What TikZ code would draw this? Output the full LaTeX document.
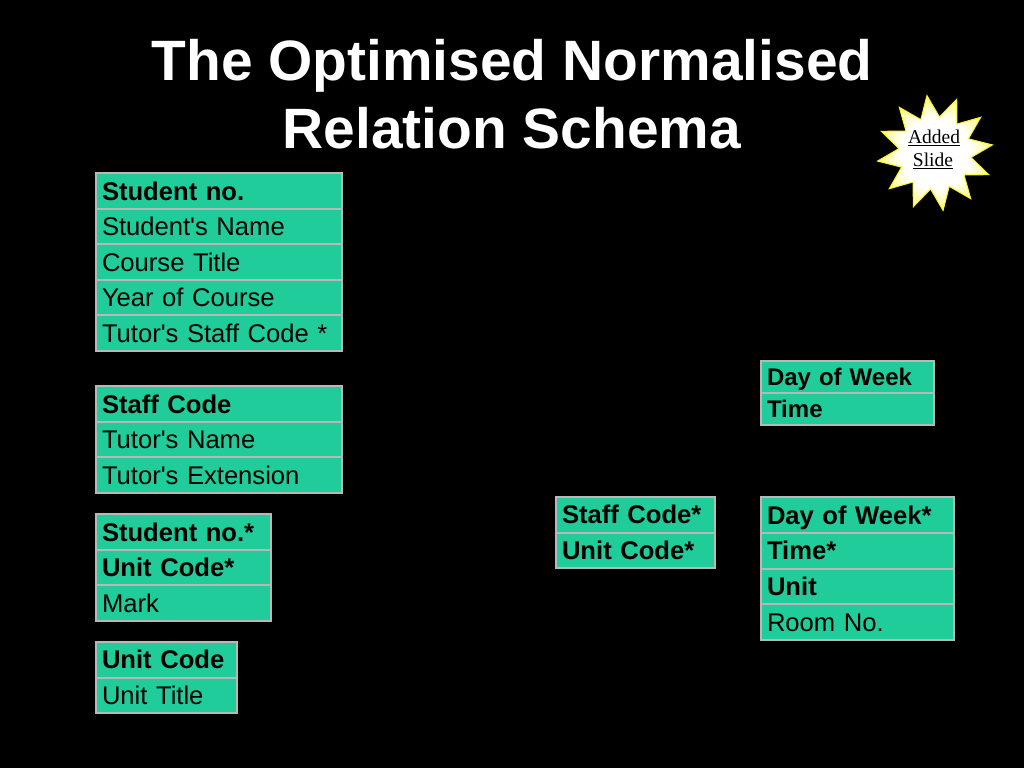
\documentclass[tikz,border=0pt]{standalone}
\usepackage{fontspec}
\setmainfont{Liberation Sans}[Ligatures=TeXOff]
\newfontfamily\burstfont{Liberation Serif}
\usetikzlibrary{shapes.geometric}
\definecolor{cellgreen}{RGB}{32,204,153}
\definecolor{cellborder}{RGB}{184,184,184}
\definecolor{burstyellow}{RGB}{250,245,40}
\pgfdeclareradialshading{burstshade}{\pgfpoint{0bp}{0bp}}{color(0bp)=(white); color(15bp)=(white); color(22bp)=(burstyellow!40!white); color(30bp)=(burstyellow); color(50bp)=(burstyellow)}
\tikzset{
  cell/.style={draw=cellborder, fill=cellgreen, line width=2pt, anchor=north west,
    inner xsep=6pt, inner ysep=0pt, align=left, text=black,
    font=\fontsize{25.6}{30}\selectfont, text height=18.4pt, text depth=0pt},
  keycell/.style={cell, font=\fontsize{25.6}{30}\selectfont\bfseries},
  titletext/.style={text=white, font=\fontsize{56.9}{68}\selectfont\bfseries, align=center},
  burst/.style={star, star points=12, star point ratio=1.6, minimum size=116pt,
    draw=burstyellow, line width=1pt, shading=burstshade},
  bursttext/.style={text=black, font=\fontsize{19.5}{22}\burstfont, inner sep=0pt}
}
\begin{document}
\begin{tikzpicture}[x=1pt,y=-1pt]
\useasboundingbox[fill=black] (0,0) rectangle (1024,768);
% title
\node[titletext] (title) at (512,94) {The Optimised Normalised\\Relation Schema};
% starburst
\node[burst, rotate=8] (burst) at (935,153) {};
\node[bursttext] (added) at (934,138) {\underline{Added}};
\node[bursttext] (slide) at (933,161) {\underline{Slide}};
% Table 1: Student
\node[keycell, minimum width=246pt, minimum height=35.6pt, text width=234pt] (s1) at (95,172) {Student no.};
\node[cell, minimum width=246pt, minimum height=35.6pt, text width=234pt] (s2) at (95,207.6) {Student's Name};
\node[cell, minimum width=246pt, minimum height=35.6pt, text width=234pt] (s3) at (95,243.2) {Course Title};
\node[cell, minimum width=246pt, minimum height=35.6pt, text width=234pt] (s4) at (95,278.8) {Year of Course};
\node[cell, minimum width=246pt, minimum height=35.6pt, text width=234pt] (s5) at (95,314.4) {Tutor's Staff Code *};
% Table 2: Staff
\node[keycell, minimum width=246pt, minimum height=35.6pt, text width=234pt] (t1) at (95,385) {Staff Code};
\node[cell, minimum width=246pt, minimum height=35.6pt, text width=234pt] (t2) at (95,420.6) {Tutor's Name};
\node[cell, minimum width=246pt, minimum height=35.6pt, text width=234pt] (t3) at (95,456.2) {Tutor's Extension};
% Table 3: Marks
\node[keycell, minimum width=175pt, minimum height=35.6pt, text width=163pt] (m1) at (95,513) {Student no.*};
\node[keycell, minimum width=175pt, minimum height=35.6pt, text width=163pt] (m2) at (95,548.6) {Unit Code*};
\node[cell, minimum width=175pt, minimum height=35.6pt, text width=163pt] (m3) at (95,584.2) {Mark};
% Table 4: Unit
\node[keycell, minimum width=141pt, minimum height=35.5pt, text width=129pt] (u1) at (95,641) {Unit Code};
\node[cell, minimum width=141pt, minimum height=35.5pt, text width=129pt] (u2) at (95,676.5) {Unit Title};
% Table 5: Staff/Unit
\node[keycell, minimum width=159pt, minimum height=35.5pt, text width=147pt] (su1) at (555,496) {Staff Code*};
\node[keycell, minimum width=159pt, minimum height=35.5pt, text width=147pt] (su2) at (555,531.5) {Unit Code*};
% Table 6: Day/Time
\node[keycell, minimum width=173pt, minimum height=32.3pt, text width=161pt, font=\fontsize{24}{28}\selectfont\bfseries, text height=17.3pt] (d1) at (760,359.5) {Day of Week};
\node[keycell, minimum width=173pt, minimum height=32.3pt, text width=161pt, font=\fontsize{24}{28}\selectfont\bfseries, text height=17.3pt] (d2) at (760,391.8) {Time};
% Table 7: Timetable
\node[keycell, minimum width=193pt, minimum height=35.8pt, text width=181pt] (r1) at (760,496) {Day of Week*};
\node[keycell, minimum width=193pt, minimum height=35.8pt, text width=181pt] (r2) at (760,531.8) {Time*};
\node[keycell, minimum width=193pt, minimum height=35.8pt, text width=181pt] (r3) at (760,567.6) {Unit};
\node[cell, minimum width=193pt, minimum height=35.8pt, text width=181pt] (r4) at (760,603.4) {Room No.};
\end{tikzpicture}
\end{document}
